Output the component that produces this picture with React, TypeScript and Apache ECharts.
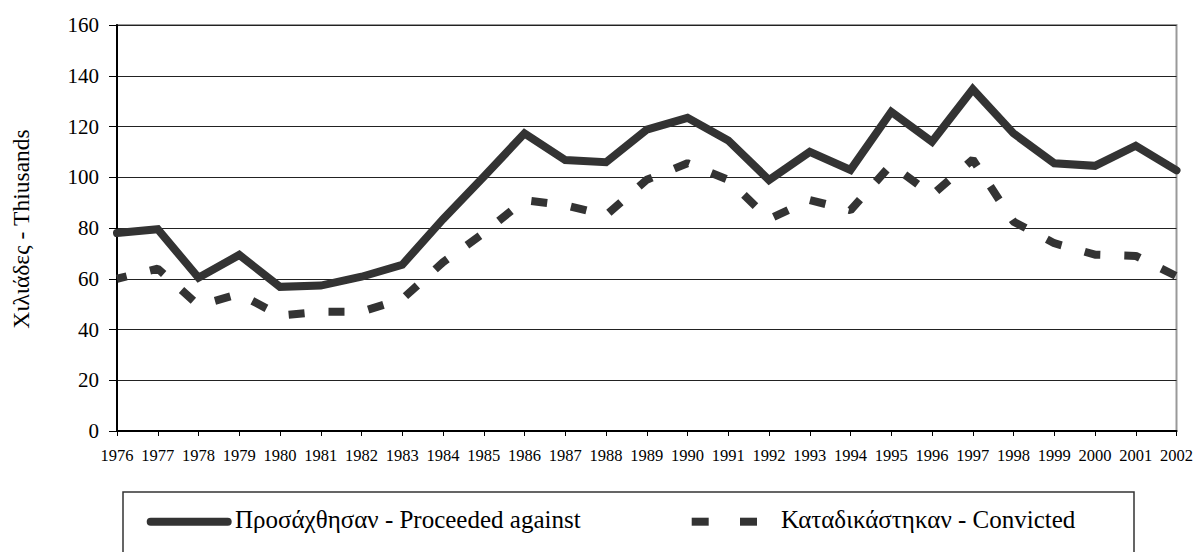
import React, { useEffect, useRef } from "react";
import * as echarts from "echarts";

const years = [
  "1976", "1977", "1978", "1979", "1980", "1981", "1982", "1983", "1984",
  "1985", "1986", "1987", "1988", "1989", "1990", "1991", "1992", "1993",
  "1994", "1995", "1996", "1997", "1998", "1999", "2000", "2001", "2002",
];
const proceeded = [
  78, 79.5, 60.4, 69.4, 56.8, 57.3, 60.8, 65.5, 83.5, 100.2, 117.3, 106.8,
  105.9, 118.8, 123.4, 114.5, 98.9, 110, 102.9, 125.8, 114, 134.7, 117.3,
  105.5, 104.5, 112.4, 102.7,
];
const convicted = [
  60, 64, 49.5, 54, 45.5, 47, 47, 52, 66.5, 78, 91, 89, 85, 99, 105.5, 99,
  83.5, 91, 87, 105, 93, 107, 82.5, 74, 69.5, 69, 61,
];
const seriesNames = ["Προσάχθησαν - Proceeded against", "Καταδικάστηκαν - Convicted"];
const yTitle = "Χιλιάδες - Thiusands";

const FONT = "Liberation Serif";
const LINE = "#333333";

export default function App() {
  const ref = useRef<HTMLDivElement>(null);
  useEffect(() => {
    document.body.style.margin = "0";
    if (!ref.current) return;
    const chart = echarts.init(ref.current, null, { renderer: "svg" });
    chart.setOption({
      animation: false,
      backgroundColor: "#ffffff",
      textStyle: { fontFamily: FONT },
      grid: {
        left: 117,
        right: 18,
        top: 25,
        bottom: 121,
        show: true,
        borderColor: "#999999",
        borderWidth: 2,
        backgroundColor: "transparent",
      },
      xAxis: {
        type: "category",
        data: years,
        boundaryGap: false,
        axisLine: { show: true, lineStyle: { color: "#000", width: 2 } },
        axisTick: { show: true, length: 5, interval: 0, lineStyle: { color: "#000", width: 1 } },
        axisLabel: {
          interval: 0,
          color: "#000",
          fontFamily: FONT,
          fontSize: 16.5,
          margin: 16,
        },
        splitLine: { show: false },
      },
      yAxis: {
        type: "value",
        min: 0,
        max: 160,
        interval: 20,
        axisLine: { show: true, lineStyle: { color: "#000", width: 2 } },
        axisTick: { show: true, length: 8, lineStyle: { color: "#000", width: 1 } },
        axisLabel: { color: "#000", fontFamily: FONT, fontSize: 21, margin: 18 },
        splitLine: { show: true, lineStyle: { color: "#222", width: 1 } },
      },
      series: [
        {
          name: seriesNames[0],
          type: "line",
          data: proceeded,
          symbol: "none",
          lineStyle: { color: LINE, width: 8, join: "miter", cap: "round" },
          z: 3,
        },
        {
          name: seriesNames[1],
          type: "line",
          data: convicted,
          symbol: "none",
          lineStyle: {
            color: LINE,
            width: 8,
            type: [16, 24],
            dashOffset: 6,
            cap: "butt",
          },
          z: 2,
        },
      ],
      graphic: [
        {
          type: "text",
          x: 21,
          y: 229,
          rotation: Math.PI / 2,
          style: {
            text: yTitle,
            fontSize: 23.5,
            fontFamily: FONT,
            fill: "#000",
            textAlign: "center",
            textVerticalAlign: "middle",
          },
        },
        {
          type: "rect",
          shape: { x: 123, y: 492, width: 1011, height: 90 },
          style: { fill: "none", stroke: "#333", lineWidth: 1.5 },
        },
        {
          type: "line",
          shape: { x1: 150.7, y1: 521.7, x2: 227.7, y2: 521.7 },
          style: { stroke: LINE, lineWidth: 8, lineCap: "round" },
        },
        {
          type: "text",
          x: 235,
          y: 519,
          style: {
            text: seriesNames[0],
            fontSize: 25,
            fontFamily: FONT,
            fill: "#000",
            textAlign: "left",
            textVerticalAlign: "middle",
          },
        },
        {
          type: "rect",
          shape: { x: 691.7, y: 517.7, width: 17, height: 8 },
          style: { fill: LINE },
        },
        {
          type: "rect",
          shape: { x: 740, y: 517.7, width: 17, height: 8 },
          style: { fill: LINE },
        },
        {
          type: "text",
          x: 781,
          y: 519,
          style: {
            text: seriesNames[1],
            fontSize: 25,
            fontFamily: FONT,
            fill: "#000",
            textAlign: "left",
            textVerticalAlign: "middle",
          },
        },
      ],
    });
    return () => chart.dispose();
  }, []);
  return <div ref={ref} style={{ width: 1196, height: 552 }} />;
}
